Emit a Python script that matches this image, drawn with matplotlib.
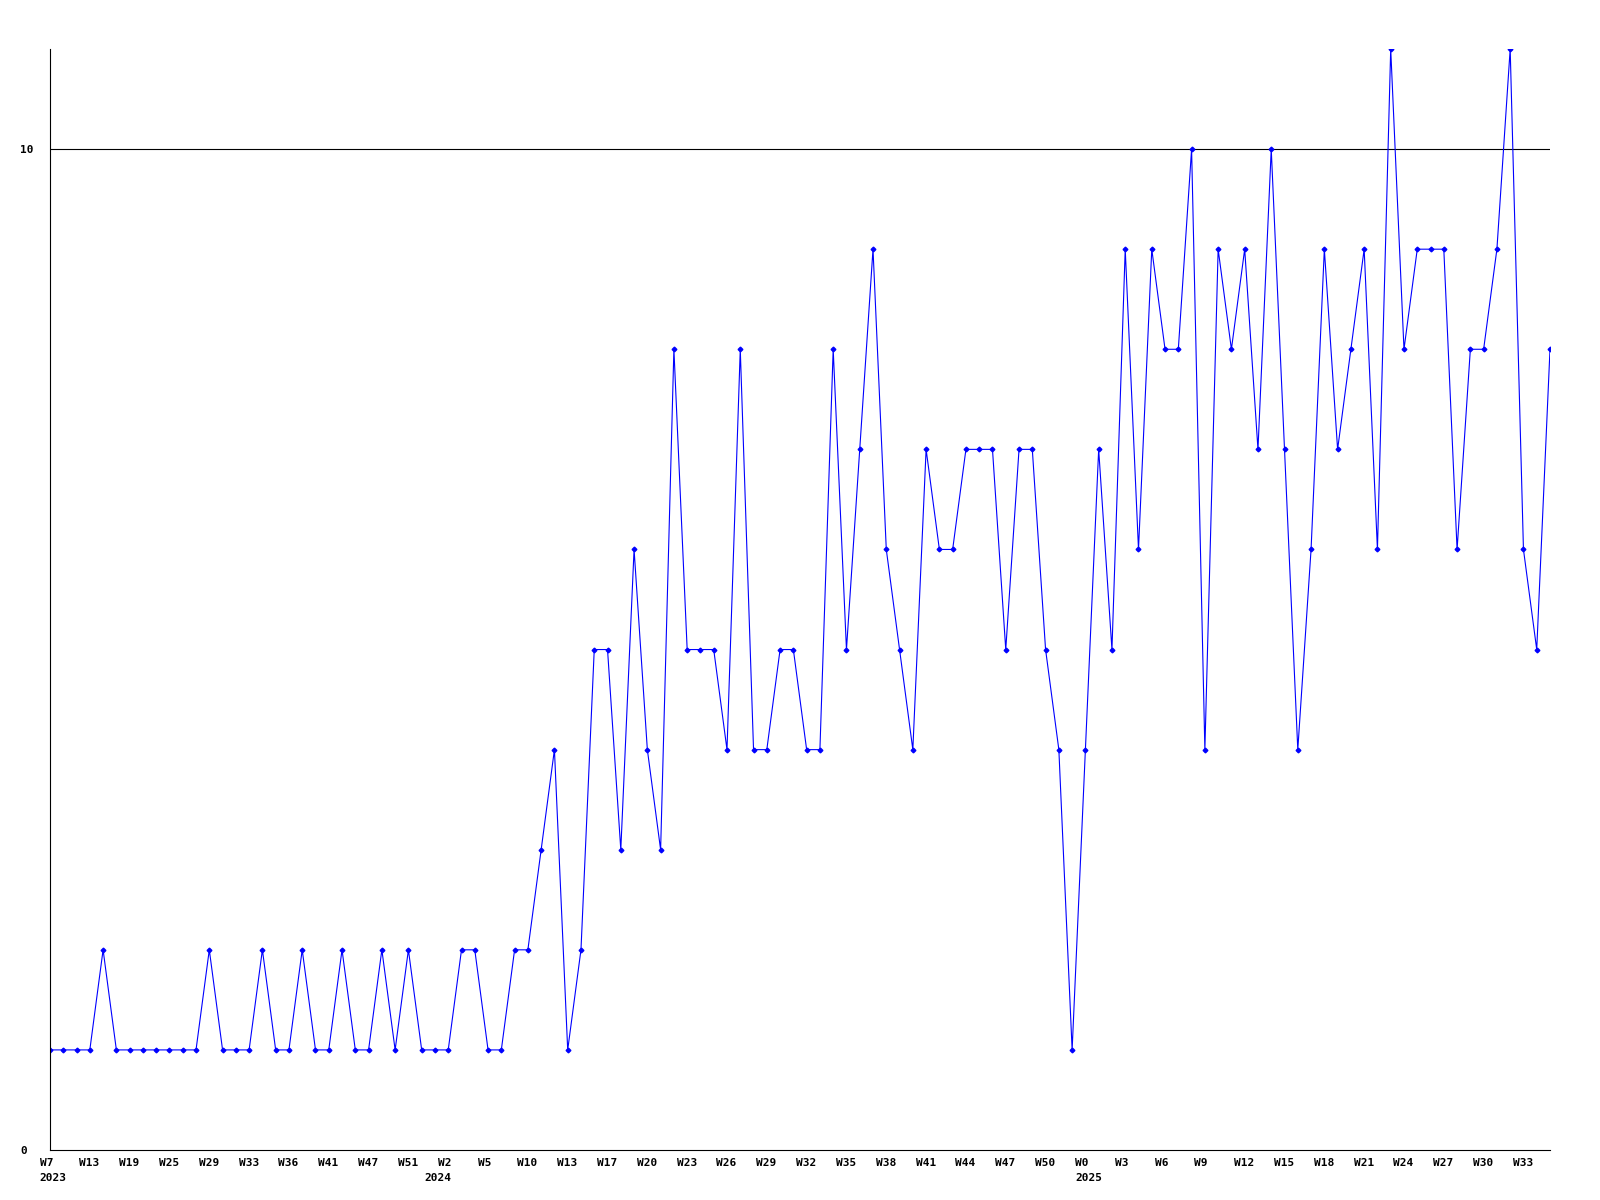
import matplotlib
matplotlib.use("Agg")
import matplotlib.pyplot as plt
import matplotlib.transforms as mtransforms

# weekly counts, one point per week
values = [1, 1, 1, 1, 2, 1, 1, 1, 1, 1, 1, 1, 2, 1, 1, 1, 2, 1, 1, 2,
          1, 1, 2, 1, 1, 2, 1, 2, 1, 1, 1, 2, 2, 1, 1, 2, 2,
          3, 4, 1, 2, 5, 5, 3, 6, 4, 3,
          8, 5, 5, 5, 4, 8, 4, 4, 5, 5,
          4, 4, 8, 5, 7, 9, 6, 5, 4, 7,
          6, 6, 7, 7, 7, 5, 7, 7, 5, 4,
          1, 4, 7, 5, 9, 6, 9, 8, 8, 10,
          4, 9, 8, 9, 7, 10, 7, 4, 6, 9,
          7, 8, 9, 6, 11, 8, 9, 9, 9, 6,
          8, 8, 9, 11, 6, 5, 8]

# a week label on every third point
week_labels = ["W7", "W13", "W19", "W25", "W29", "W33", "W36", "W41", "W47", "W51",
               "W2", "W5", "W10", "W13", "W17", "W20", "W23", "W26", "W29", "W32",
               "W35", "W38", "W41", "W44", "W47", "W50", "W0", "W3", "W6", "W9",
               "W12", "W15", "W18", "W21", "W24", "W27", "W30", "W33"]
label_step = 3

# first week of each year
years = ["2023", "2024", "2025"]
year_index = [0, 29, 78]

y_ticks = [0, 10]
ref_line = 10

x = list(range(len(values)))

fig = plt.figure(figsize=(16, 12), dpi=100)
ax = fig.add_axes([50 / 1600, 50 / 1200, 1500 / 1600, 1101 / 1200])

ax.plot(x, values, color="#0000ff", linewidth=0.8, marker="D",
        markersize=2.4, markerfacecolor="#0000ff", markeredgecolor="#0000ff")
ax.axhline(ref_line, color="black", linewidth=0.8, zorder=0)

ax.set_xlim(0, len(values) - 1)
ax.set_ylim(0, 11)

for side in ["top", "right"]:
    ax.spines[side].set_visible(False)
for side in ["left", "bottom"]:
    ax.spines[side].set_color("black")
    ax.spines[side].set_linewidth(0.8)

font = dict(family="DejaVu Sans Mono", weight="bold", size=8)

# week ticks
ax.set_xticks(x[::label_step][:len(week_labels)])
ax.set_xticklabels(week_labels, fontdict=font, ha="left")
ax.tick_params(axis="x", which="major", length=0, pad=5.8)

# year labels as minor ticks (keep them even where they sit on a week tick)
ax.xaxis.remove_overlapping_locs = False
ax.set_xticks(year_index, minor=True)
ax.set_xticklabels(years, minor=True, fontdict=font, ha="left")
ax.tick_params(axis="x", which="minor", length=0, pad=16.6)

shift = mtransforms.ScaledTranslation(-10.5 / 100, 0, fig.dpi_scale_trans)
for lab in ax.get_xticklabels() + ax.get_xticklabels(minor=True):
    lab.set_transform(lab.get_transform() + shift)

ax.set_yticks(y_ticks)
ax.set_yticklabels([str(v) for v in y_ticks], fontdict=font, ha="left")
ax.tick_params(axis="y", length=0, pad=21.6)

fig.savefig("out.png", dpi=100)
